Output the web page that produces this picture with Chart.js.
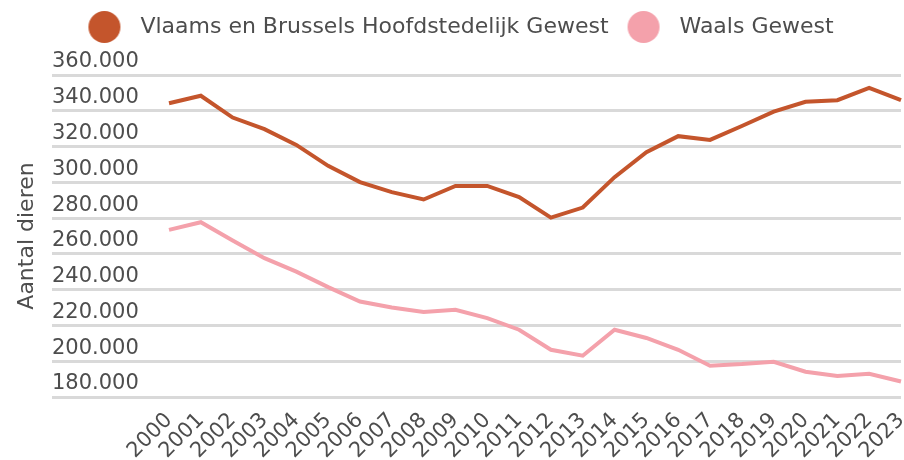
<!DOCTYPE html>
<html lang="nl">
<head>
<meta charset="utf-8">
<title>Aantal dieren per gewest</title>
<script src="https://cdn.jsdelivr.net/npm/chart.js@4/dist/chart.umd.min.js"></script>
<style>
  html, body { margin: 0; padding: 0; background: #ffffff; }
  #wrap { width: 904px; height: 460px; position: relative; }
</style>
</head>
<body>
<div id="wrap"><canvas id="chart"></canvas></div>
<script>
// Jaren op de x-as
const years = ['2000','2001','2002','2003','2004','2005','2006','2007','2008','2009','2010','2011',
               '2012','2013','2014','2015','2016','2017','2018','2019','2020','2021','2022','2023'];

// Aantal dieren per gewest
const vlaamsBrussels = [344200, 348400, 336200, 329700, 320900, 309200, 300100, 294500, 290400, 298000, 298000, 291700,
                        280300, 285900, 302900, 316800, 325800, 323700, 331500, 339500, 345000, 345900, 352800, 346000];
const waals = [273400, 277700, 267500, 257600, 250100, 241400, 233400, 230000, 227500, 228800, 224100, 217600,
               206400, 203100, 217600, 213000, 206400, 197500, 198400, 199700, 194100, 191700, 193000, 188700];

const seriesNames = ['Vlaams en Brussels Hoofdstedelijk Gewest', 'Waals Gewest'];
const seriesColors = ['#c4552c', '#f4a1ab'];

// Bereik en stap van de y-as
const yMin = 180000;
const yMax = 360000;
const yStep = 20000;

const FONT = 'DejaVu Sans';
const TEXT = '#4d4d4d';

// Getallen met punt als duizendtalscheiding
function fmt(v) {
  return String(Math.round(v)).replace(/\B(?=(\d{3})+(?!\d))/g, '.');
}

// Ronde legendemarkering
function dot(color, r) {
  const c = document.createElement('canvas');
  c.width = r * 2 + 2;
  c.height = r * 2 + 2;
  const g = c.getContext('2d');
  g.fillStyle = color;
  g.beginPath();
  g.arc(r + 1, r + 1, r, 0, Math.PI * 2);
  g.fill();
  return c;
}
const dots = seriesColors.map(c => dot(c, 16));

// Extra ruimte onder de legende, legende iets naar rechts
const legendGap = {
  id: 'legendGap',
  beforeInit(chart) {
    const origFit = chart.legend.fit;
    chart.legend.fit = function () {
      origFit.bind(chart.legend)();
      this.height += 27;
      if (this.lineWidths && this.lineWidths.length) this.lineWidths[0] -= 12;
    };
  }
};

new Chart(document.getElementById('chart'), {
  type: 'line',
  data: {
    labels: years,
    datasets: [
      { label: seriesNames[0], data: vlaamsBrussels, borderColor: seriesColors[0], backgroundColor: seriesColors[0] },
      { label: seriesNames[1], data: waals, borderColor: seriesColors[1], backgroundColor: seriesColors[1] }
    ]
  },
  plugins: [legendGap],
  options: {
    responsive: true,
    maintainAspectRatio: false,
    animation: false,
    layout: { padding: { top: 6, right: 3, left: 0, bottom: 0 } },
    elements: {
      line: { borderWidth: 4, tension: 0 },
      point: { radius: 0, hoverRadius: 0 }
    },
    plugins: {
      tooltip: { enabled: false },
      legend: {
        position: 'top',
        align: 'center',
        labels: {
          usePointStyle: true,
          pointStyleWidth: 50,
          padding: 10,
          color: TEXT,
          font: { family: FONT, size: 22 },
          generateLabels(chart) {
            const items = Chart.defaults.plugins.legend.labels.generateLabels(chart);
            items.forEach((it, i) => { it.pointStyle = dots[i]; });
            return items;
          }
        }
      }
    },
    scales: {
      x: {
        offset: false,
        grid: { display: false, drawTicks: true },
        border: { display: false },
        ticks: {
          autoSkip: false,
          minRotation: 45,
          maxRotation: 45,
          color: TEXT,
          font: { family: FONT, size: 21 }
        },
        afterFit(scale) {
          scale.height = 63;
          scale.paddingLeft = 0;
          scale.paddingRight = 0;
        }
      },
      y: {
        min: yMin,
        max: yMax,
        border: { display: false },
        grid: { color: '#d9d9d9', lineWidth: 3, tickLength: 117, tickColor: '#d9d9d9' },
        ticks: {
          stepSize: yStep,
          mirror: true,
          padding: -117,
          crossAlign: 'near',
          labelOffset: -13,
          color: TEXT,
          font: { family: FONT, size: 21 },
          callback: v => fmt(v)
        },
        title: {
          display: true,
          text: 'Aantal dieren',
          color: TEXT,
          font: { family: FONT, size: 22 },
          padding: { top: 14, bottom: 10 }
        },
        afterFit(scale) {
          scale.width = 169;
        }
      }
    }
  }
});
</script>
</body>
</html>
